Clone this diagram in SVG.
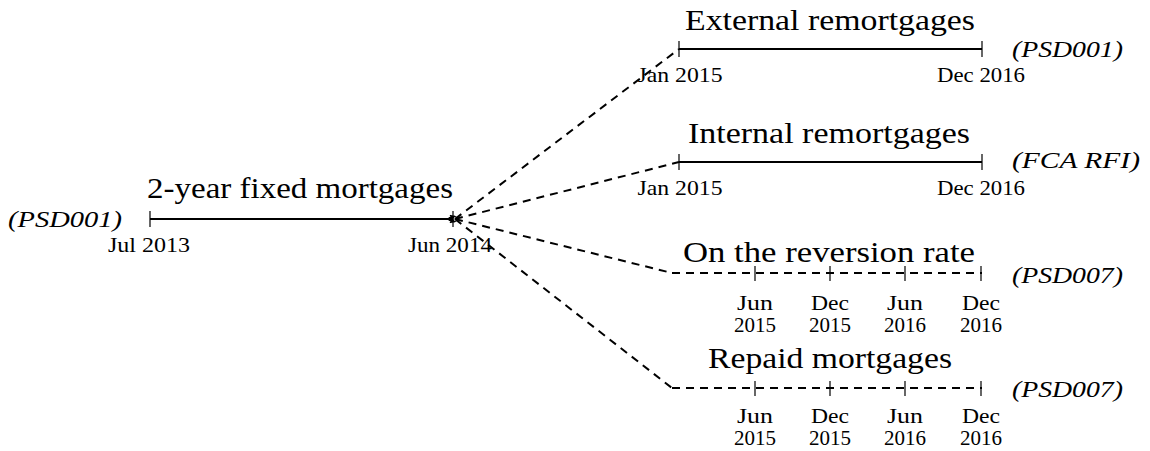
<svg xmlns="http://www.w3.org/2000/svg" width="1150" height="451" viewBox="0 0 1150 451">
<style>
text{font-family:"Liberation Serif","DejaVu Serif",serif;fill:#000}
.title{font-size:29px}
.date{font-size:21px;text-anchor:middle}
.src{font-size:23px;font-style:italic}
.tl{stroke:#000;stroke-width:2;fill:none}
.tld{stroke:#000;stroke-width:2;fill:none;stroke-dasharray:8 6}
.tick{stroke:#000;stroke-width:1.2}
.conn{stroke:#000;stroke-width:2;fill:none;stroke-dasharray:8 6}
</style>
<defs>
<marker id="arr" viewBox="0 0 10 10" refX="0" refY="5" markerWidth="3.5" markerHeight="3.5" orient="auto-start-reverse" markerUnits="strokeWidth">
<path d="M0,0 L10,5 L0,10 L3,5 Z" fill="#000"/>
</marker>
</defs>
<rect width="1150" height="451" fill="#fff"/>

<g id="connectors">
<path class="conn" d="M455,219 L679,49" marker-start="url(#arr)"/>
<path class="conn" d="M455,219 L679,162" marker-start="url(#arr)"/>
<path class="conn" d="M455,219 L672,273" marker-start="url(#arr)"/>
<path class="conn" d="M455,219 L672,388" marker-start="url(#arr)"/>
</g>

<g id="fixed">
<text class="title" x="147" y="198" textLength="306" lengthAdjust="spacingAndGlyphs">2-year fixed mortgages</text>
<line class="tl" x1="150" y1="219" x2="453" y2="219"/>
<line class="tick" x1="150" y1="211" x2="150" y2="227"/>
<line class="tick" x1="453" y1="211" x2="453" y2="227"/>
<text class="date" x="149" y="252" textLength="82" lengthAdjust="spacingAndGlyphs">Jul 2013</text>
<text class="date" x="450" y="252" textLength="84" lengthAdjust="spacingAndGlyphs">Jun 2014</text>
<text class="src" x="8" y="227" textLength="114" lengthAdjust="spacingAndGlyphs">(PSD001)</text>
</g>

<g id="external">
<text class="title" x="685" y="30" textLength="290" lengthAdjust="spacingAndGlyphs">External remortgages</text>
<line class="tl" x1="679" y1="49" x2="982" y2="49"/>
<line class="tick" x1="679" y1="41" x2="679" y2="57"/>
<line class="tick" x1="982" y1="41" x2="982" y2="57"/>
<text class="date" x="680" y="82" textLength="85" lengthAdjust="spacingAndGlyphs">Jan 2015</text>
<text class="date" x="981" y="82" textLength="88" lengthAdjust="spacingAndGlyphs">Dec 2016</text>
<text class="src" x="1012" y="57" textLength="111" lengthAdjust="spacingAndGlyphs">(PSD001)</text>
</g>

<g id="internal">
<text class="title" x="688" y="143" textLength="282" lengthAdjust="spacingAndGlyphs">Internal remortgages</text>
<line class="tl" x1="679" y1="162" x2="982" y2="162"/>
<line class="tick" x1="679" y1="154" x2="679" y2="170"/>
<line class="tick" x1="982" y1="154" x2="982" y2="170"/>
<text class="date" x="680" y="195" textLength="85" lengthAdjust="spacingAndGlyphs">Jan 2015</text>
<text class="date" x="981" y="195" textLength="88" lengthAdjust="spacingAndGlyphs">Dec 2016</text>
<text class="src" x="1012" y="168" textLength="128" lengthAdjust="spacingAndGlyphs">(FCA RFI)</text>
</g>

<g id="reversion">
<text class="title" x="683" y="262" textLength="292" lengthAdjust="spacingAndGlyphs">On the reversion rate</text>
<line class="tld" x1="672" y1="273" x2="982" y2="273"/>
<line class="tick" x1="755" y1="266" x2="755" y2="281"/>
<line class="tick" x1="830" y1="266" x2="830" y2="281"/>
<line class="tick" x1="905" y1="266" x2="905" y2="281"/>
<line class="tick" x1="981" y1="266" x2="981" y2="281"/>
<text class="date" x="755" y="310" textLength="36" lengthAdjust="spacingAndGlyphs">Jun</text>
<text class="date" x="755" y="332">2015</text>
<text class="date" x="830" y="310" textLength="38" lengthAdjust="spacingAndGlyphs">Dec</text>
<text class="date" x="830" y="332">2015</text>
<text class="date" x="905" y="310" textLength="36" lengthAdjust="spacingAndGlyphs">Jun</text>
<text class="date" x="905" y="332">2016</text>
<text class="date" x="981" y="310" textLength="38" lengthAdjust="spacingAndGlyphs">Dec</text>
<text class="date" x="981" y="332">2016</text>
<text class="src" x="1012" y="283" textLength="111" lengthAdjust="spacingAndGlyphs">(PSD007)</text>
</g>

<g id="repaid">
<text class="title" x="708" y="368" textLength="244" lengthAdjust="spacingAndGlyphs">Repaid mortgages</text>
<line class="tld" x1="672" y1="388" x2="982" y2="388"/>
<line class="tick" x1="755" y1="381" x2="755" y2="396"/>
<line class="tick" x1="830" y1="381" x2="830" y2="396"/>
<line class="tick" x1="905" y1="381" x2="905" y2="396"/>
<line class="tick" x1="981" y1="381" x2="981" y2="396"/>
<text class="date" x="755" y="423" textLength="36" lengthAdjust="spacingAndGlyphs">Jun</text>
<text class="date" x="755" y="445">2015</text>
<text class="date" x="830" y="423" textLength="38" lengthAdjust="spacingAndGlyphs">Dec</text>
<text class="date" x="830" y="445">2015</text>
<text class="date" x="905" y="423" textLength="36" lengthAdjust="spacingAndGlyphs">Jun</text>
<text class="date" x="905" y="445">2016</text>
<text class="date" x="981" y="423" textLength="38" lengthAdjust="spacingAndGlyphs">Dec</text>
<text class="date" x="981" y="445">2016</text>
<text class="src" x="1012" y="397" textLength="111" lengthAdjust="spacingAndGlyphs">(PSD007)</text>
</g>
</svg>
